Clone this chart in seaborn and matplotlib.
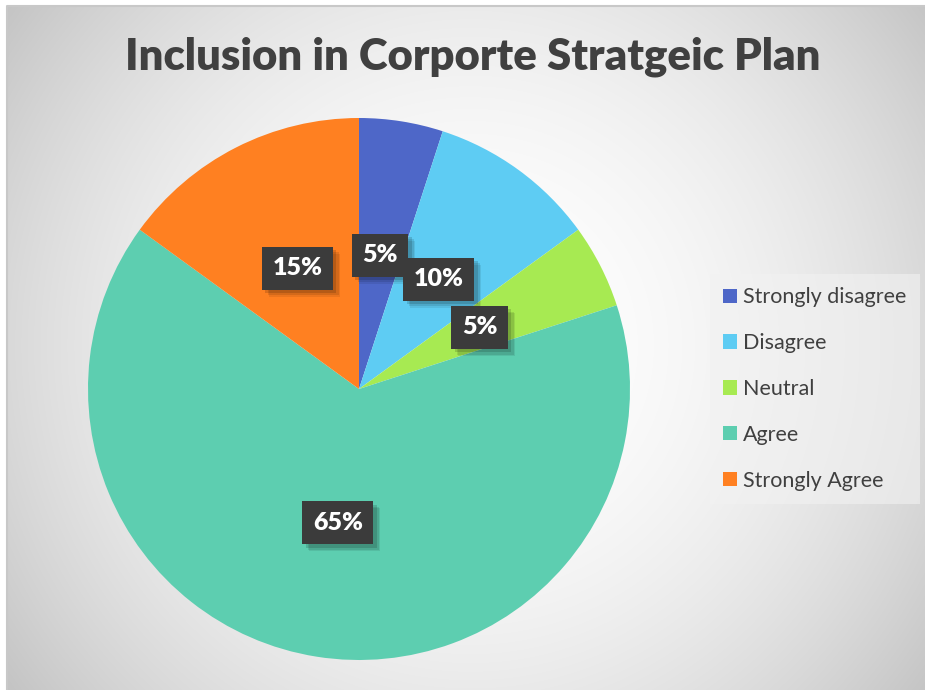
import numpy as np
import matplotlib
matplotlib.use("Agg")
import matplotlib.pyplot as plt
import matplotlib.patheffects as pe
import seaborn as sns

sns.set_style("white")
plt.rcParams["font.family"] = ["Lato", "DejaVu Sans"]

# Survey responses
categories = ["Strongly disagree", "Disagree", "Neutral", "Agree", "Strongly Agree"]
shares = [5, 10, 5, 65, 15]
pct_labels = ["5%", "10%", "5%", "65%", "15%"]
colors = ["#4E67C8", "#5ECCF3", "#A7EA52", "#5DCEB0", "#FF8021"]
title = "Inclusion in Corporte Stratgeic Plan"

W, H = 925, 690
fig = plt.figure(figsize=(W / 100, H / 100), dpi=100)
fig.patch.set_facecolor("white")

# Chart area with a soft radial gradient
bg = fig.add_axes([7 / W, 0, 1 - 7 / W, 1 - 6 / H])
ys, xs = np.mgrid[6:H, 7:W]
d = np.hypot(xs - 470, ys - 345) / 570.0
val = 255 - 58 * np.clip(d, 0, 1.2) ** 2
img = np.dstack([val, val, val]) / 255.0
bg.imshow(img, aspect="auto", extent=[0, 1, 0, 1], interpolation="bilinear")
bg.set_axis_off()
# thin frame on the left and top edges
bg.plot([0, 0, 1], [0, 1, 1], transform=bg.transAxes, color="#C8C8C8",
        linewidth=1.5, clip_on=False, solid_capstyle="butt")

# Pie
cx, cy, R = 359, 389, 271
ax = fig.add_axes([(cx - R) / W, (H - cy - R) / H, 2 * R / W, 2 * R / H])
ax.set_facecolor("none")
palette = sns.color_palette(colors)
wedges, _ = ax.pie(shares, colors=palette, startangle=90, counterclock=False,
                   radius=1.0, wedgeprops=dict(linewidth=0))
ax.set_xlim(-1, 1)
ax.set_ylim(-1, 1)
ax.set_aspect("equal")
ax.set_axis_off()

# Data labels in dark boxes with a soft drop shadow
for w, lab in zip(wedges, pct_labels):
    ang = np.deg2rad((w.theta1 + w.theta2) / 2)
    x, y = 0.5 * np.cos(ang), 0.5 * np.sin(ang)
    t = ax.text(x, y, lab, ha="center", va="center", color="white",
                fontsize=18, fontweight="heavy",
                bbox=dict(boxstyle="square,pad=0.42", facecolor="#3B3B3B",
                          edgecolor="none", linewidth=0))
    t.get_bbox_patch().set_path_effects([
        pe.SimplePatchShadow(offset=(5, -5), shadow_rgbFace="black", alpha=0.08),
        pe.SimplePatchShadow(offset=(4, -4), shadow_rgbFace="black", alpha=0.10),
        pe.SimplePatchShadow(offset=(2.5, -2.5), shadow_rgbFace="black", alpha=0.14),
        pe.Normal()])

# Title
fig.text(473 / W, 1 - 57 / H, title, ha="center", va="center",
         fontsize=31.4, fontweight="heavy", color="#404040")

# Legend
leg = fig.legend(wedges, categories, loc="center left",
                 bbox_to_anchor=(710 / W, 1 - 389 / H),
                 frameon=True, fontsize=15.5, labelcolor="#404040",
                 handlelength=0.65, handleheight=0.65, handletextpad=0.3,
                 labelspacing=1.2, borderpad=0.6, borderaxespad=0,
                 fancybox=False)
leg.get_frame().set_facecolor("#F2F2F2")
leg.get_frame().set_alpha(0.6)
leg.get_frame().set_linewidth(0)

fig.savefig("out.png", dpi=100, facecolor=fig.get_facecolor())
